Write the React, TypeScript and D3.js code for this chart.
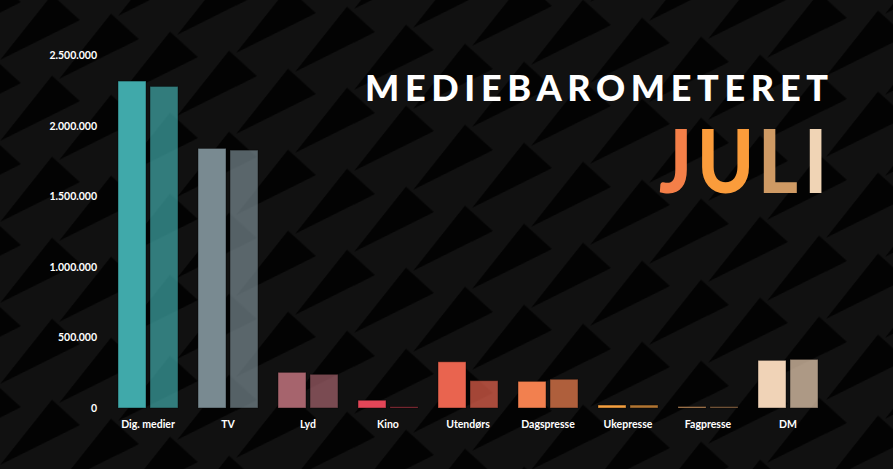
import React from "react";
import * as d3 from "d3";

const categories = ["Dig. medier", "TV", "Lyd", "Kino", "Utendørs", "Dagspresse", "Ukepresse", "Fagpresse", "DM"];
const seriesNames = ["forrige", "denne"];
const forrige = [2320000, 1842000, 253000, 55000, 328000, 189000, 21000, 10000, 338000];
const denne = [2282000, 1830000, 239000, 9000, 194000, 204000, 21000, 10000, 345000];
const yTicks = [0, 500000, 1000000, 1500000, 2000000, 2500000];
const barColors = ["#40a9aa", "#798a91", "#a6646d", "#e24658", "#e9644f", "#f2804f", "#f5a040", "#c9925e", "#f0d3b7"];
const titleText = "MEDIEBAROMETERET";
const monthLetters = ["J", "U", "L", "I"];
const monthColors = ["#f47f48", "#fb9c3b", "#cf9a64", "#f0d4b5"];

const W = 893;
const H = 469;

export default function App() {
  const x = d3.scaleBand<string>().domain(categories).range([108, 828]).paddingInner(0).paddingOuter(0);
  const xs = d3.scaleBand<string>().domain(seriesNames).range([10, 70]).paddingInner(0.125).paddingOuter(0);
  const y = d3.scaleLinear().domain([0, 2500000]).range([408, 55.7]);
  const loc = d3.formatLocale({ decimal: ",", thousands: ".", grouping: [3], currency: ["", " kr"] });
  const fmt = loc.format(",");
  const series = [forrige, denne];
  const sx = 0.87;
  const monthX = [659, 697, 758, 804];

  return (
    <svg width={W} height={H} style={{ position: "absolute", left: 0, top: 0, display: "block" }}>
      <defs>
        <pattern id="tri" patternUnits="userSpaceOnUse" width={118} height={81} patternTransform="matrix(1,-0.373,0,1,0,0)">
          <path d="M52,14 L80,50 L0,60 Z" fill="#030303" />
          <path d="M111,55 L139,91 L59,101 Z" fill="#030303" />
          <path d="M111,-26 L139,10 L59,20 Z" fill="#030303" />
          <path d="M-7,55 L21,91 L-59,101 Z" fill="#030303" />
          <path d="M-7,-26 L21,10 L-59,20 Z" fill="#030303" />
        </pattern>
      </defs>
      <rect x={0} y={0} width={W} height={H} fill="#111111" />
      <rect x={0} y={0} width={W} height={H} fill="url(#tri)" />

      {yTicks.map((t) => (
        <text key={t} x={97} y={y(t)} dy="0.35em" textAnchor="end" fill="#ffffff" fontFamily="Lato, sans-serif" fontWeight={700} fontSize={10.5}>
          {fmt(t)}
        </text>
      ))}

      {categories.map((c, i) => (
        <g key={c} transform={`translate(${x(c)},0)`}>
          {series.map((s, j) => (
            <rect
              key={j}
              x={xs(seriesNames[j])}
              y={y(s[i])}
              width={xs.bandwidth()}
              height={y(0) - y(s[i])}
              fill={barColors[i]}
              fillOpacity={j === 0 ? 1 : 0.7}
              stroke="#000000"
              strokeOpacity={0.4}
              strokeWidth={1}
            />
          ))}
          <text x={x.bandwidth() / 2} y={428} textAnchor="middle" fill="#ffffff" fontFamily="Lato, sans-serif" fontWeight={700} fontSize={10.5}>
            {c}
          </text>
        </g>
      ))}

      <text x={365} y={101} fill="#ffffff" fontFamily="Lato, sans-serif" fontWeight={900} fontSize={36} textLength={463} lengthAdjust="spacing">
        {titleText}
      </text>
      {monthLetters.map((l, i) => (
        <g key={i} transform={`translate(${monthX[i]},193) scale(${sx},1)`}>
          <text x={0} y={0} fill={monthColors[i]} fontFamily="Lato, sans-serif" fontWeight={900} fontSize={88}>
            {l}
          </text>
        </g>
      ))}
    </svg>
  );
}
